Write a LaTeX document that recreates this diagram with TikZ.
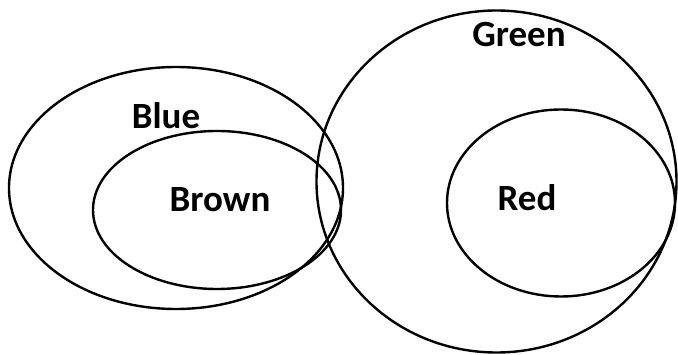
\documentclass[tikz,border=0pt]{standalone}
\usepackage{fontspec}
\setmainfont{Carlito}
\usepackage{tikz}

\tikzset{
  set/.style={line width=2.4pt},
  setlabel/.style={anchor=base,inner sep=0pt,font=\fontsize{37}{40}\selectfont\bfseries}
}

\begin{document}
\begin{tikzpicture}[x=1pt,y=-1pt]
    \useasboundingbox (0,0) rectangle (678,355);
    \draw[set] (176,188) ellipse (167 and 121);
    \draw[set] (217,210) ellipse (124 and 79);
    \draw[set] (496.5,181.5) ellipse (180 and 171);
    \draw[set] (561,203) ellipse (114 and 93.5);
    \node[setlabel] (blue) at (166,129) {Blue};
    \node[setlabel] (brown) at (220,212) {Brown};
    \node[setlabel] (green) at (519,47) {Green};
    \node[setlabel] (red) at (527,211) {Red};
  \end{tikzpicture}
\end{document}
